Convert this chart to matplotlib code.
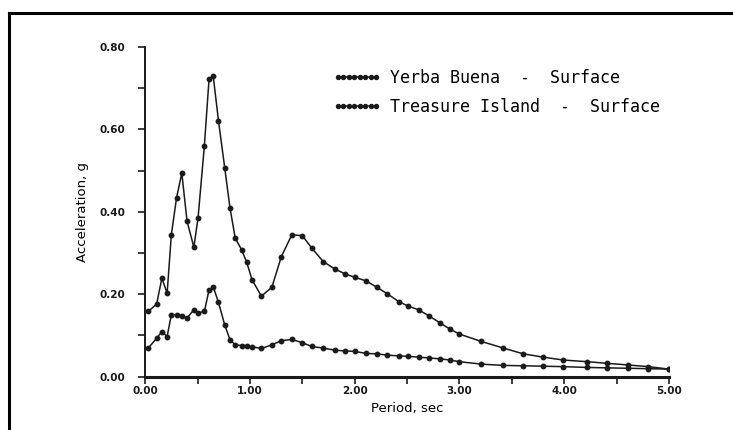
import matplotlib
matplotlib.use("Agg")
import matplotlib.pyplot as plt
from matplotlib.ticker import MultipleLocator, FormatStrFormatter
from matplotlib.lines import Line2D

# period (sec), shared by both records
period = [0.03, 0.11, 0.16, 0.21, 0.25, 0.30, 0.35, 0.40, 0.465, 0.505,
          0.565, 0.61, 0.65, 0.70, 0.76, 0.81, 0.86, 0.92, 0.97, 1.02,
          1.11, 1.21, 1.30, 1.40, 1.50, 1.59, 1.70, 1.81, 1.91, 2.00,
          2.11, 2.21, 2.31, 2.42, 2.51, 2.61, 2.71, 2.81, 2.91, 3.00,
          3.21, 3.42, 3.61, 3.80, 3.99, 4.22, 4.41, 4.61, 4.80, 5.00]

yerba_buena = [0.069, 0.093, 0.109, 0.097, 0.150, 0.150, 0.148, 0.142, 0.162, 0.154,
               0.158, 0.210, 0.218, 0.180, 0.125, 0.089, 0.077, 0.075, 0.075, 0.072,
               0.068, 0.077, 0.087, 0.090, 0.082, 0.073, 0.069, 0.064, 0.062, 0.061,
               0.056, 0.055, 0.052, 0.050, 0.049, 0.047, 0.045, 0.043, 0.040, 0.036,
               0.030, 0.027, 0.026, 0.025, 0.024, 0.022, 0.021, 0.020, 0.019, 0.018]

treasure_island = [0.158, 0.176, 0.239, 0.202, 0.344, 0.434, 0.494, 0.377, 0.314, 0.385,
                   0.559, 0.722, 0.729, 0.621, 0.506, 0.409, 0.336, 0.308, 0.277, 0.235,
                   0.195, 0.217, 0.291, 0.344, 0.342, 0.312, 0.279, 0.261, 0.249, 0.241,
                   0.232, 0.217, 0.201, 0.182, 0.171, 0.162, 0.147, 0.131, 0.115, 0.103,
                   0.085, 0.069, 0.055, 0.047, 0.040, 0.036, 0.032, 0.028, 0.024, 0.018]

labels = ["Yerba Buena  -  Surface", "Treasure Island  -  Surface"]

fig = plt.figure(figsize=(7.33, 4.30), dpi=100)
fig.patch.set_facecolor("white")
ax = fig.add_axes([0.198, 0.1244, 0.7147, 0.7663])

# frame of the scanned page (only top and left edges visible)
fig.add_artist(Line2D([9 / 733, 9 / 733], [0, 1 - 13 / 430], transform=fig.transFigure,
                      color="black", lw=2.2))
fig.add_artist(Line2D([9 / 733, 1], [1 - 13 / 430, 1 - 13 / 430], transform=fig.transFigure,
                      color="black", lw=2.2))

style = dict(color="#1a1a1a", lw=1.1, marker="o", ms=3.2, mfc="#1a1a1a", mec="#1a1a1a")
ax.plot(period, yerba_buena, label=labels[0], **style)
ax.plot(period, treasure_island, label=labels[1], **style)

ax.set_xlim(0, 5)
ax.set_ylim(0, 0.8)
ax.xaxis.set_major_locator(MultipleLocator(1))
ax.xaxis.set_minor_locator(MultipleLocator(0.5))
ax.yaxis.set_major_locator(MultipleLocator(0.2))
ax.yaxis.set_minor_locator(MultipleLocator(0.1))
ax.xaxis.set_major_formatter(FormatStrFormatter("%.2f"))
ax.yaxis.set_major_formatter(FormatStrFormatter("%.2f"))
ax.tick_params(which="both", direction="out", length=5, width=1.2, colors="#1a1a1a",
               labelsize=7.5)
ax.tick_params(axis="x", pad=2)
ax.tick_params(axis="y", pad=9)
for lab in ax.get_xticklabels() + ax.get_yticklabels():
    lab.set_fontweight("bold")

for s in ["top", "right"]:
    ax.spines[s].set_visible(False)
ax.spines["left"].set_linewidth(1.4)
ax.spines["bottom"].set_linewidth(2.2)
ax.spines["left"].set_color("#1a1a1a")
ax.spines["bottom"].set_color("#1a1a1a")

ax.set_xlabel("Period, sec", fontsize=9.5, labelpad=4)
ax.set_ylabel("Acceleration, g", fontsize=9.5, labelpad=8)

ax.legend(loc="upper left", bbox_to_anchor=(0.33, 0.98), frameon=False, numpoints=8,
          handlelength=2.9, handletextpad=0.5, labelspacing=0.7,
          prop={"family": "DejaVu Sans Mono", "size": 12}, markerscale=0.9)

fig.savefig("out.png", dpi=100, facecolor="white")
